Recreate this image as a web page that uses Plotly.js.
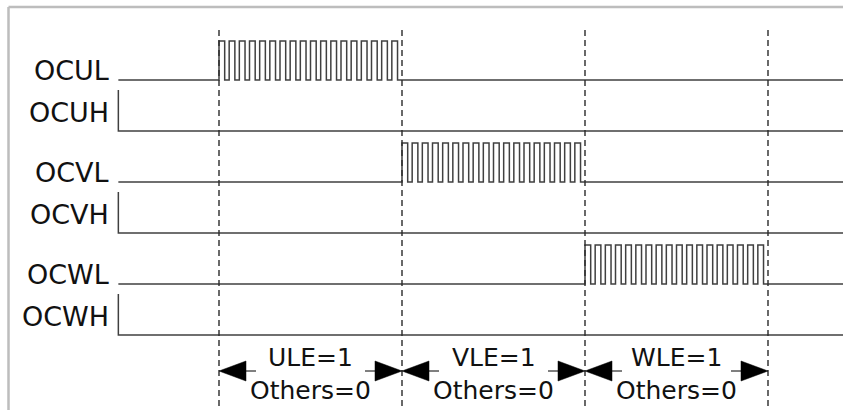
<!DOCTYPE html>
<html>
<head>
<meta charset="utf-8">
<script src="https://cdn.plot.ly/plotly-3.0.1.min.js"></script>
<style>html,body{margin:0;padding:0;background:#fff;}#chart{width:843px;height:410px;}</style>
</head>
<body>
<div id="chart"></div>
<script>
// ---- data ----
const signals = ['OCUL', 'OCUH', 'OCVL', 'OCVH', 'OCWL', 'OCWH'];
const signalKind = ['L', 'H', 'L', 'H', 'L', 'H'];
const activePhase = [0, null, 1, null, 2, null];   // phase in which each L output is chopping
const phaseEdges = [1, 2, 3, 4];                      // dashed boundaries (time units)
const phaseLabels = ['ULE=1', 'VLE=1', 'WLE=1'];
const othersLabels = ['Others=0', 'Others=0', 'Others=0'];
const pulseCounts = [18, 18, 18];
const signalStart = 0.45;
const signalEnd = 4.41;

// ---- geometry (px -> data helpers) ----
const W = 843, H = 410;
const pxPerT = 183, tAtPx0 = 1 - 219 / pxPerT;
const pxPerRow = 51, rowTopVal = 80 / pxPerRow;
const xRange = [tAtPx0, tAtPx0 + W / pxPerT];
const yRange = [rowTopVal - H / pxPerRow, rowTopVal];
const dx = p => p / pxPerT, dy = p => p / pxPerRow;

const sigColor = '#404040';
const traces = [];

// signal waveforms
signals.forEach((name, i) => {
  const base = -i;
  let xs = [], ys = [];
  if (signalKind[i] === 'H') {
    const hi = base + dy(41);
    xs = [signalStart, signalStart, signalEnd];
    ys = [hi, base, base];
  } else {
    const hi = base + dy(39);
    xs.push(signalStart); ys.push(base);
    const k = activePhase[i];
    const a = phaseEdges[k], b = phaseEdges[k + 1];
    const n = pulseCounts[k];
    const per = (b - a) / n;
    for (let p = 0; p < n; p++) {
      const r = a + p * per, f = r + per * 0.56;
      xs.push(r, r, f, f); ys.push(base, hi, hi, base);
    }
    xs.push(signalEnd); ys.push(base);
  }
  traces.push({x: xs, y: ys, mode: 'lines', line: {color: sigColor, width: 1.5, shape: 'linear'}, hoverinfo: 'skip'});
});

// dashed phase boundaries
phaseEdges.forEach(t => {
  traces.push({x: [t, t], y: [rowTopVal - dy(30), yRange[0]], mode: 'lines',
    line: {color: '#2a2a2a', width: 1.4, dash: '6px,4px'}, hoverinfo: 'skip'});
});

// arrows
const arrowY = -5 - dy(36);
const triL = 27, triH = 10, stem = 10;
for (let k = 0; k < phaseLabels.length; k++) {
  const a = phaseEdges[k], b = phaseEdges[k + 1];
  // left arrowhead
  traces.push({x: [a, a + dx(triL), a + dx(triL), a], y: [arrowY, arrowY + dy(triH), arrowY - dy(triH), arrowY],
    mode: 'lines', fill: 'toself', fillcolor: '#000', line: {color: '#000', width: 0.5}, hoverinfo: 'skip'});
  traces.push({x: [a + dx(triL), a + dx(triL + stem)], y: [arrowY, arrowY], mode: 'lines', line: {color: '#000', width: 1}, hoverinfo: 'skip'});
  // right arrowhead
  traces.push({x: [b, b - dx(triL), b - dx(triL), b], y: [arrowY, arrowY + dy(triH), arrowY - dy(triH), arrowY],
    mode: 'lines', fill: 'toself', fillcolor: '#000', line: {color: '#000', width: 0.5}, hoverinfo: 'skip'});
  traces.push({x: [b - dx(triL), b - dx(triL + stem)], y: [arrowY, arrowY], mode: 'lines', line: {color: '#000', width: 1}, hoverinfo: 'skip'});
}

const labelFont = {family: 'DejaVu Sans', size: 27, color: '#111'};
const font = {family: 'DejaVu Sans', size: 25, color: '#111'};
const annotations = [];
signals.forEach((name, i) => {
  annotations.push({x: signalStart, y: -i, xref: 'x', yref: 'y', text: name, showarrow: false,
    xanchor: 'right', yanchor: 'middle', xshift: -7, yshift: signalKind[i] === 'L' ? 10 : 19, font: labelFont});
});
phaseLabels.forEach((lab, k) => {
  const mid = (phaseEdges[k] + phaseEdges[k + 1]) / 2;
  annotations.push({x: mid, y: arrowY, xref: 'x', yref: 'y', text: lab, showarrow: false,
    xanchor: 'center', yanchor: 'middle', yshift: 14, font: font});
  annotations.push({x: mid, y: arrowY, xref: 'x', yref: 'y', text: othersLabels[k], showarrow: false,
    xanchor: 'center', yanchor: 'middle', yshift: -19, font: font});
});

const layout = {
  width: W, height: H, margin: {l: 0, r: 0, t: 0, b: 0},
  paper_bgcolor: '#fff', plot_bgcolor: '#fff', showlegend: false,
  xaxis: {range: xRange, visible: false, fixedrange: true},
  yaxis: {range: yRange, visible: false, fixedrange: true},
  annotations: annotations,
  shapes: [
    {type: 'line', xref: 'paper', yref: 'paper', x0: 8.5 / W, x1: 1, y0: 1 - 7 / H, y1: 1 - 7 / H, line: {color: '#bdbdbd', width: 2.5}},
    {type: 'line', xref: 'paper', yref: 'paper', x0: 8.5 / W, x1: 8.5 / W, y0: 1 - 7 / H, y1: 0, line: {color: '#bdbdbd', width: 2.5}}
  ]
};
Plotly.newPlot('chart', traces, layout, {staticPlot: true, displayModeBar: false});
</script>
</body>
</html>
